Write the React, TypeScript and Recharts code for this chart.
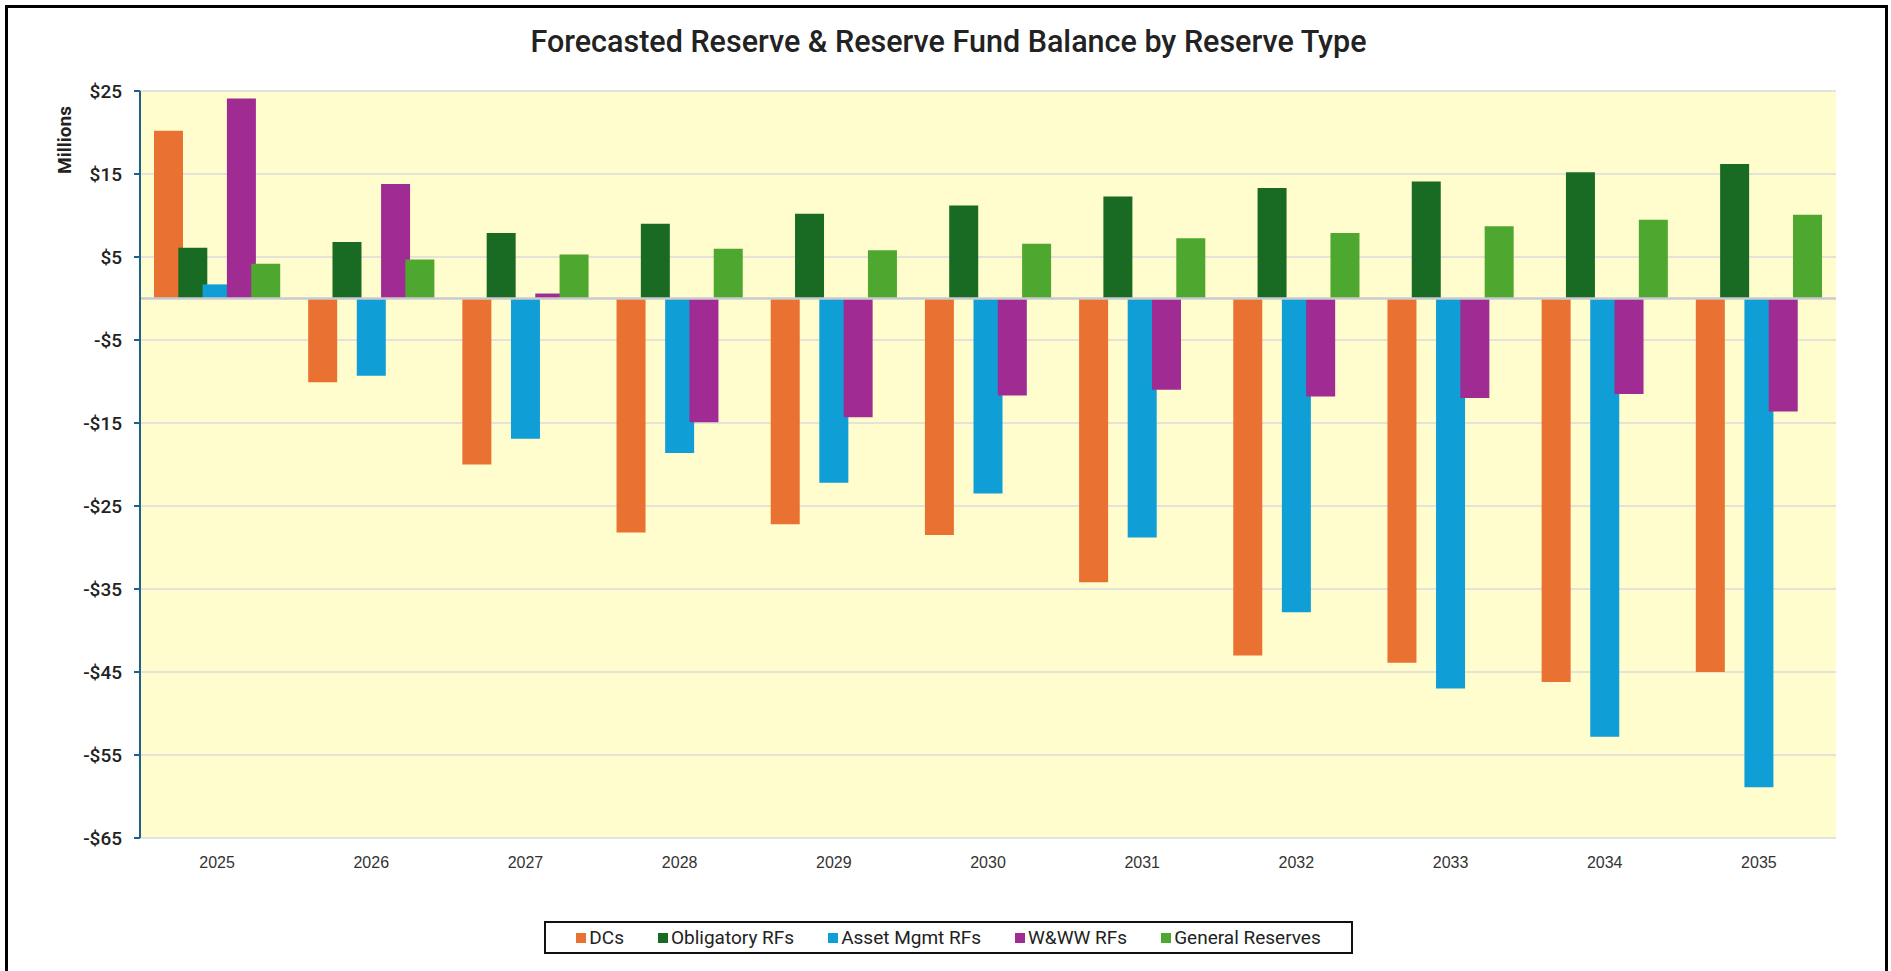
import { Bar, BarChart, CartesianGrid, Legend, ReferenceLine, XAxis, YAxis } from "recharts";

const years = ["2025", "2026", "2027", "2028", "2029", "2030", "2031", "2032", "2033", "2034", "2035"];

// $ millions
const dcs = [20.2, -10.1, -20.0, -28.2, -27.2, -28.5, -34.2, -43.0, -43.9, -46.2, -45.0];
const obligatoryRfs = [6.1, 6.8, 7.9, 9.0, 10.2, 11.2, 12.3, 13.3, 14.1, 15.2, 16.2];
const assetMgmtRfs = [1.7, -9.3, -16.9, -18.6, -22.2, -23.5, -28.8, -37.8, -47.0, -52.8, -58.9];
const wwwRfs = [24.1, 13.8, 0.6, -14.9, -14.3, -11.7, -11.0, -11.8, -12.0, -11.5, -13.6];
const generalReserves = [4.2, 4.7, 5.3, 6.0, 5.8, 6.6, 7.25, 7.9, 8.7, 9.5, 10.1];

const yTicks = [25, 15, 5, -5, -15, -25, -35, -45, -55, -65];

const series = [
  { key: "dcs", name: "DCs", color: "#E97132" },
  { key: "obligatory", name: "Obligatory RFs", color: "#196B24" },
  { key: "asset", name: "Asset Mgmt RFs", color: "#0F9ED5" },
  { key: "www", name: "W&WW RFs", color: "#A02B93" },
  { key: "general", name: "General Reserves", color: "#4EA72E" },
];

const data = years.map((year, i) => ({
  year,
  dcs: dcs[i],
  obligatory: obligatoryRfs[i],
  asset: assetMgmtRfs[i],
  www: wwwRfs[i],
  general: generalReserves[i],
}));

const money = (v: number) => (v < 0 ? `-$${-v}` : `$${v}`);

function LegendBox() {
  return (
    <div style={{ display: "flex", justifyContent: "center" }}>
      <div
        style={{
          display: "flex",
          alignItems: "center",
          gap: 34,
          height: 33,
          boxSizing: "border-box",
          border: "2px solid #111",
          padding: "0 30px",
          background: "#fff",
          fontFamily: "Roboto, sans-serif",
          fontSize: 19,
          color: "#222",
        }}
      >
        {series.map((s) => (
          <div key={s.key} style={{ display: "flex", alignItems: "center", gap: 3 }}>
            <span style={{ display: "inline-block", width: 10, height: 10, background: s.color }} />
            <span>{s.name}</span>
          </div>
        ))}
      </div>
    </div>
  );
}

export default function App() {
  return (
    <div style={{ position: "fixed", left: 0, top: 0, width: 1891, height: 971, background: "#fff", overflow: "hidden" }}>
      <div
        style={{
          position: "absolute",
          left: 5,
          top: 5,
          width: 1877,
          height: 1000,
          border: "3px solid #000",
          borderBottom: "none",
        }}
      />
      <div
        style={{
          position: "absolute",
          left: 6,
          top: 22,
          width: 1885,
          textAlign: "center",
          fontFamily: "Roboto, sans-serif",
          fontWeight: 500,
          fontSize: 30.5,
          lineHeight: "40px",
          color: "#222",
        }}
      >
        Forecasted Reserve &amp; Reserve Fund Balance by Reserve Type
      </div>
      <div
        style={{
          position: "absolute",
          left: 64,
          top: 140,
          transform: "translate(-50%, -50%) rotate(-90deg)",
          fontFamily: "Roboto, sans-serif",
          fontWeight: 700,
          fontSize: 19,
          color: "#222",
          whiteSpace: "nowrap",
        }}
      >
        Millions
      </div>
      <div style={{ position: "absolute", left: 0, top: 0 }}>
        <BarChart
          width={1891}
          height={971}
          data={data}
          margin={{ top: 91, right: 55, left: 80, bottom: 60 }}
          barSize={29}
          barGap={-4.7}
        >
          <CartesianGrid vertical={false} stroke="#DADADA" strokeWidth={1.5} fill="#FFFDCD" fillOpacity={1} />
          <XAxis
            dataKey="year"
            interval={0}
            height={40}
            axisLine={false}
            tickLine={false}
            tickSize={0}
            tickMargin={19}
            tick={{ fill: "#333", fontSize: 16, fontFamily: "Liberation Sans, Arial, sans-serif" }}
          />
          <YAxis
            domain={[-65, 25]}
            ticks={yTicks}
            interval={0}
            width={60}
            tickFormatter={money}
            axisLine={{ stroke: "#1F5F8B", strokeWidth: 2 }}
            tickLine={{ stroke: "#1F5F8B", strokeWidth: 2 }}
            tickSize={6}
            tickMargin={12}
            tick={{ fill: "#222", fontSize: 19, fontWeight: 500, fontFamily: "Roboto, sans-serif" }}
          />
          <ReferenceLine y={0} stroke="#C8CAD0" strokeWidth={2.5} />
          {series.map((s) => (
            <Bar key={s.key} dataKey={s.key} name={s.name} fill={s.color} isAnimationActive={false} />
          ))}
          <Legend
            verticalAlign="bottom"
            content={() => <LegendBox />}
            wrapperStyle={{ left: 6, width: 1885, bottom: 17 }}
          />
        </BarChart>
      </div>
    </div>
  );
}
